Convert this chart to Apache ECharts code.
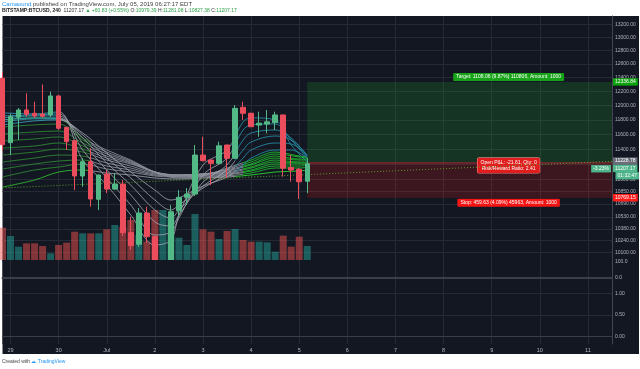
<!DOCTYPE html>
<html><head><meta charset="utf-8">
<script src="https://cdn.jsdelivr.net/npm/echarts@6/dist/echarts.min.js"></script>
<style>html,body{margin:0;padding:0;background:#fff}#c{width:640px;height:369px}</style>
</head><body><div id="c"></div>
<script>
// ---------- data ----------
const dayLabels = ['29','30','Jul','2','3','4','5','6','7','8','9','10','11'];
const slotCount = 77;
// 4h candles: [open, close, low, high]
const candles = [
 [12390,11460,11380,12480],[11488,11845,11322,11882],[11836,11937,11524,11965],[11937,11878,11845,12173],
 [11891,11854,11827,12054],[11880,11850,11830,12300],[11868,12135,11840,12196],[12135,11683,11660,12150],
 [11697,11501,11389,11700],[11515,11047,10866,11520],[11047,11234,10909,11282],[11234,10753,10656,11412],
 [10749,11060,10614,11065],[11073,10879,10828,11125],[10879,10943,10866,11086],[10943,10336,10295,10995],
 [10336,10180,10129,10531],[10196,10577,10165,10639],[10577,10288,10212,10656],[10288,9900,9700,10300],
 [9900,9960,9650,9990],[9960,10593,9900,10677],[10605,10774,10531,10866],[10774,10815,10677,10891],
 [10815,11322,10790,11456],[11322,11247,11240,11568],[11256,11212,10930,11260],[11212,11446,11200,11501],
 [11456,11278,11021,11460],[11278,11960,11270,12006],[11974,11891,11799,12054],[11891,11705,11700,11900],
 [11727,11754,11568,11913],[11741,11772,11614,11937],[11761,11868,11660,11913],[11868,11149,11038,11870],
 [11157,11125,10973,11322],[11135,10973,10753,11151],[10979.39,11207.17,10827.38,11281.08]
];
const volumes = [1940,1440,800,1000,1000,840,400,900,1040,1700,1600,1600,1600,1840,2100,2000,2400,1500,1100,3000,
 3000,2600,1340,900,2760,1840,1700,1260,1740,1860,1200,1100,1100,1060,500,1460,800,1400,840];
const priceTicks = [13200,13000,12800,12600,12400,12200,12000,11800,11600,11400,11200,11000,10850,10690,10530,10380,10240,10100];
const pane2Ticks = [0,100];
const pane3Ticks = [0,0.5,1];
// moving-average ribbon, read at key candle indices
const longKeys = [0,4,7,10,13,16,19,22,25,28,31,34,37,38];
const longRibbon = [
 [11799,11827,11813,11551,11389,11256,11099,11021,11047,11151,11256,11362,11309,11296],
 [11702,11730,11743,11524,11362,11243,11099,11034,11060,11138,11230,11336,11296,11282],
 [11605,11632,11646,11483,11336,11230,11099,11047,11073,11125,11204,11309,11269,11269],
 [11510,11538,11565,11443,11309,11217,11099,11060,11073,11112,11191,11282,11256,11256],
 [11416,11443,11483,11402,11282,11204,11099,11060,11073,11099,11164,11256,11230,11230],
 [11322,11362,11402,11362,11256,11177,11086,11060,11073,11086,11151,11230,11217,11217],
 [11230,11282,11322,11309,11217,11151,11073,11060,11060,11073,11125,11204,11204,11204],
 [11138,11204,11243,11256,11177,11125,11060,11047,11047,11060,11112,11177,11177,11191],
 [11034,11125,11164,11204,11138,11099,11047,11034,11034,11047,11086,11151,11151,11164],
 [10905,10995,11099,11125,11086,11060,11021,11008,11021,11034,11060,11099,11112,11125]
];
const shortKeys = [0,4,7,10,13,16,19,21,22,25,28,30,31,34,36,38];
const shortRibbon = [
 [11896,11882,11910,11256,10930,10552,10188,10248,10552,11191,11389,11771,11827,11799,11456,11230],
 [11854,11868,11882,11389,11021,10677,10308,10345,10516,11060,11282,11660,11730,11743,11524,11282],
 [11827,11854,11854,11483,11125,10803,10467,10418,10552,10969,11191,11524,11619,11660,11551,11309],
 [11799,11827,11827,11551,11217,10930,10614,10516,10614,10918,11125,11389,11497,11578,11524,11322],
 [11771,11813,11813,11592,11282,11021,10740,10614,10677,10892,11073,11282,11389,11483,11470,11309],
 [11730,11785,11799,11619,11349,11099,10866,10740,10765,10918,11034,11191,11282,11389,11389,11282]
];
const trendLine = [[0,10894],[76,11239]];
const positionStart = 38, positionEnd = 76;
const targetPrice = 12336.84, entryPrice = 11228.78, stopPrice = 10769.15, lastPrice = 11207.17;
const countdown = '01:32:47', pctLabel = '-3.23%';
const targetText = 'Target: 1108.06 (9.87%) 110806, Amount: 1000';
const stopText = 'Stop: 459.63 (4.09%) 45963, Amount: 1000';
const pnlText = 'Open P&L: -21.61, Qty: 0\nRisk/Reward Ratio: 2.41';

// ---------- chart ----------
const FONT = 'Liberation Sans, Arial, sans-serif';
const BG = '#131722';
const AXC = '#b2b5be', GRIDC = '#262a35', SEPC = '#3a3e49';
const cats = Array.from({length: slotCount}, (_, i) => String(i));
const isDay = i => (i - 1) % 6 === 0;
const L = 2.5, R = 28;

function xAx(gi, extra) {
  return Object.assign({
    type: 'category', gridIndex: gi, data: cats, boundaryGap: false,
    axisTick: {show: false}, axisLabel: {show: false}, axisLine: {show: false},
    splitLine: {show: true, interval: (i) => isDay(i), lineStyle: {color: GRIDC, width: 1}}
  }, extra || {});
}
const lbl = {fontSize: 5, color: AXC, fontFamily: FONT, margin: 3};

const series = [];
series.push({
  type: 'bar', xAxisIndex: 1, yAxisIndex: 1, barWidth: 7, z: 1, silent: true,
  data: volumes,
  itemStyle: {color: p => candles[p.dataIndex][1] >= candles[p.dataIndex][0] ? 'rgba(38,166,154,0.5)' : 'rgba(239,83,80,0.5)'}
});
const longIdx = [], shortIdx = [];
longRibbon.forEach((arr, k) => {
  if (k < longRibbon.length - 1) longIdx.push(series.length);
  series.push({type: 'line', xAxisIndex: 0, yAxisIndex: 0, z: 2, symbol: 'none', smooth: 0.35, silent: true,
    lineStyle: {width: 1, opacity: 0.85}, data: arr.map((v, j) => [longKeys[j], v])});
});
const lastLongIdx = series.length - 1;
shortRibbon.forEach((arr) => {
  shortIdx.push(series.length);
  series.push({type: 'line', xAxisIndex: 0, yAxisIndex: 0, z: 2, symbol: 'none', smooth: 0.35, silent: true,
    lineStyle: {width: 1, opacity: 0.8}, data: arr.map((v, j) => [shortKeys[j], v])});
});
series.push({type: 'line', xAxisIndex: 0, yAxisIndex: 0, z: 3, symbol: 'none', silent: true,
  lineStyle: {width: 1, type: [1, 2], color: '#5d9c2c'}, data: trendLine});

const boxLbl = {show: true, color: '#fff', fontSize: 5, fontFamily: FONT, padding: [1.5, 3], borderRadius: 1};
const axisTag = (price, bg, extra) => Object.assign({
  yAxis: price,
  lineStyle: {color: 'rgba(0,0,0,0)', width: 0},
  label: Object.assign({show: true, position: 'end', distance: 1, fontSize: 5, fontFamily: FONT, color: '#fff',
    padding: [1.2, 2], backgroundColor: bg, formatter: () => price.toFixed(2)}, extra || {})
});
series.push({
  type: 'candlestick', xAxisIndex: 0, yAxisIndex: 0, z: 4, barWidth: 5, silent: true, clip: true,
  itemStyle: {color: '#53b987', color0: '#eb4d5c', borderColor: '#53b987', borderColor0: '#eb4d5c', borderWidth: 1},
  data: candles,
  markArea: {silent: true, data: [
    [{coord: [positionStart, targetPrice], itemStyle: {color: 'rgba(30,160,40,0.22)'},
      label: Object.assign({}, boxLbl, {position: 'top', distance: 1, offset: [49, 0], formatter: targetText, backgroundColor: '#17a317'})},
     {coord: [positionEnd, entryPrice]}],
    [{coord: [positionStart, entryPrice], itemStyle: {color: 'rgba(255,29,23,0.18)'},
      label: Object.assign({}, boxLbl, {position: 'bottom', distance: 1, offset: [49, 0], formatter: stopText, backgroundColor: '#f41414'})},
     {coord: [positionEnd, stopPrice]}],
    [{coord: [positionStart, entryPrice], itemStyle: {color: 'rgba(255,90,90,0.25)'},
      label: Object.assign({}, boxLbl, {position: 'inside', offset: [49, 2.5], formatter: pnlText, lineHeight: 6,
        backgroundColor: '#e01c1c', borderColor: '#ff9a9a', borderWidth: 0.5, align: 'center'})},
     {coord: [positionEnd, lastPrice]}]
  ]},
  markLine: {silent: true, symbol: ['none', 'none'], animation: false,
    data: [
      axisTag(targetPrice, '#0ca30c'),
      axisTag(entryPrice, '#6a6d78', {offset: [0, -1]}),
      axisTag(lastPrice, '#4fb58a', {offset: [0, 4.7]}),
      axisTag(lastPrice, '#4fb58a', {offset: [2.5, 12], formatter: () => countdown}),
      axisTag(stopPrice, '#ff1a1a')
    ]},
  markPoint: {silent: true, symbol: 'rect', symbolSize: 0, animation: false,
    data: [{coord: [positionEnd, lastPrice], label: {show: true, position: 'left', distance: 1, offset: [0, 5], formatter: pctLabel,
      backgroundColor: '#4fb58a', color: '#fff', fontSize: 5, fontFamily: FONT, padding: [1.2, 2]}}]}
});

const option = {
  animation: false,
  backgroundColor: '#ffffff',
  textStyle: {fontFamily: FONT},
  graphic: [{type: 'rect', z: -10, silent: true, shape: {x: 2.5, y: 16, width: 636.5, height: 338}, style: {fill: BG}}],
  title: [
    {left: 2, top: 1.5, padding: 0, text: '{u|Camaound} published on TradingView.com, July 05, 2019 06:27:17 EDT',
      textStyle: {fontSize: 6, fontWeight: 'normal', color: '#3d3d3d', fontFamily: FONT, rich: {u: {fontSize: 6, color: '#2196f3', fontFamily: FONT}}}},
    {left: 2, top: 8.5, padding: 0,
      text: '{k|BITSTAMP:BTCUSD, 240}  11207.17 {g|▲ +60.83 (+0.55%)} O:{g|10979.39} H:{g|11281.08} L:{g|10827.38} C:{g|11207.17}',
      textStyle: {fontSize: 5, fontWeight: 'normal', color: '#333', fontFamily: FONT,
        rich: {k: {fontSize: 5, fontWeight: 'bold', color: '#222', fontFamily: FONT}, g: {fontSize: 5, color: '#2ca048', fontFamily: FONT}}}},
    {left: 2, top: 359.5, padding: 0, text: 'Created with {t|☁ TradingView}',
      textStyle: {fontSize: 5, fontWeight: 'normal', color: '#444', fontFamily: FONT, rich: {t: {fontSize: 5, color: '#2196f3', fontFamily: FONT}}}}
  ],
  grid: [
    {left: L, right: R, top: 16, height: 244},
    {left: L, right: R, top: 160, height: 100},
    {left: L, right: R, top: 260, height: 20, show: true, backgroundColor: BG, borderWidth: 0, z: 6},
    {left: L, right: R, top: 280, height: 64, show: true, backgroundColor: BG, borderWidth: 0, z: 6}
  ],
  xAxis: [
    xAx(0, {axisLine: {show: true, lineStyle: {color: SEPC, width: 1}}}),
    xAx(1, {show: false}),
    xAx(2, {z: 10, axisLine: {show: true, lineStyle: {color: SEPC, width: 2}}}),
    xAx(3, {z: 10, axisLine: {show: true, lineStyle: {color: SEPC, width: 1}},
      axisLabel: {show: true, interval: (i) => isDay(i), formatter: (v, i) => isDay(i) ? dayLabels[(i - 1) / 6] : '',
        fontSize: 5.5, color: AXC, fontFamily: FONT, margin: 3}})
  ],
  yAxis: [
    {type: 'log', gridIndex: 0, min: 10010, max: 13329, position: 'right',
      axisLine: {show: true, lineStyle: {color: '#434651'}}, axisTick: {show: false, customValues: priceTicks},
      axisLabel: Object.assign({customValues: priceTicks, formatter: v => Number(v).toFixed(2)}, lbl),
      splitLine: {show: true, lineStyle: {color: GRIDC}}},
    {type: 'value', gridIndex: 1, min: 0, max: 6000, show: false},
    {type: 'value', gridIndex: 2, z: 10, min: -12, max: 112, position: 'right',
      axisLine: {show: true, lineStyle: {color: '#434651'}}, axisTick: {show: false, customValues: pane2Ticks},
      axisLabel: Object.assign({customValues: pane2Ticks, formatter: v => Number(v).toFixed(1)}, lbl),
      splitLine: {show: false}},
    {type: 'value', gridIndex: 3, z: 10, min: -0.168, max: 1.306, position: 'right',
      axisLine: {show: true, lineStyle: {color: '#434651'}}, axisTick: {show: false, customValues: pane3Ticks},
      axisLabel: Object.assign({customValues: pane3Ticks, formatter: v => Number(v).toFixed(2)}, lbl),
      splitLine: {show: true, lineStyle: {color: GRIDC}}}
  ],
  visualMap: [
    {type: 'piecewise', show: false, seriesIndex: longIdx, dimension: 0,
      pieces: [{lt: 11, color: '#2f8c34'}, {gte: 11, lt: 30, color: '#8c909a'}, {gte: 30, color: '#1fbf2b'}]},
    {type: 'piecewise', show: false, seriesIndex: [lastLongIdx], dimension: 0,
      pieces: [{lt: 11, color: '#30c030'}, {gte: 11, lt: 29, color: '#9a9ea6'}, {gte: 29, color: '#2ee02e'}]},
    {type: 'piecewise', show: false, seriesIndex: shortIdx, dimension: 0,
      pieces: [{lt: 7, color: '#35a9c0'}, {gte: 7, lt: 29, color: '#a3a6ad'}, {gte: 29, color: '#2596b0'}]}
  ],
  series: series
};
const chart = echarts.init(document.getElementById('c'), null, {renderer: 'canvas'});
chart.setOption(option);
</script>
</body></html>
